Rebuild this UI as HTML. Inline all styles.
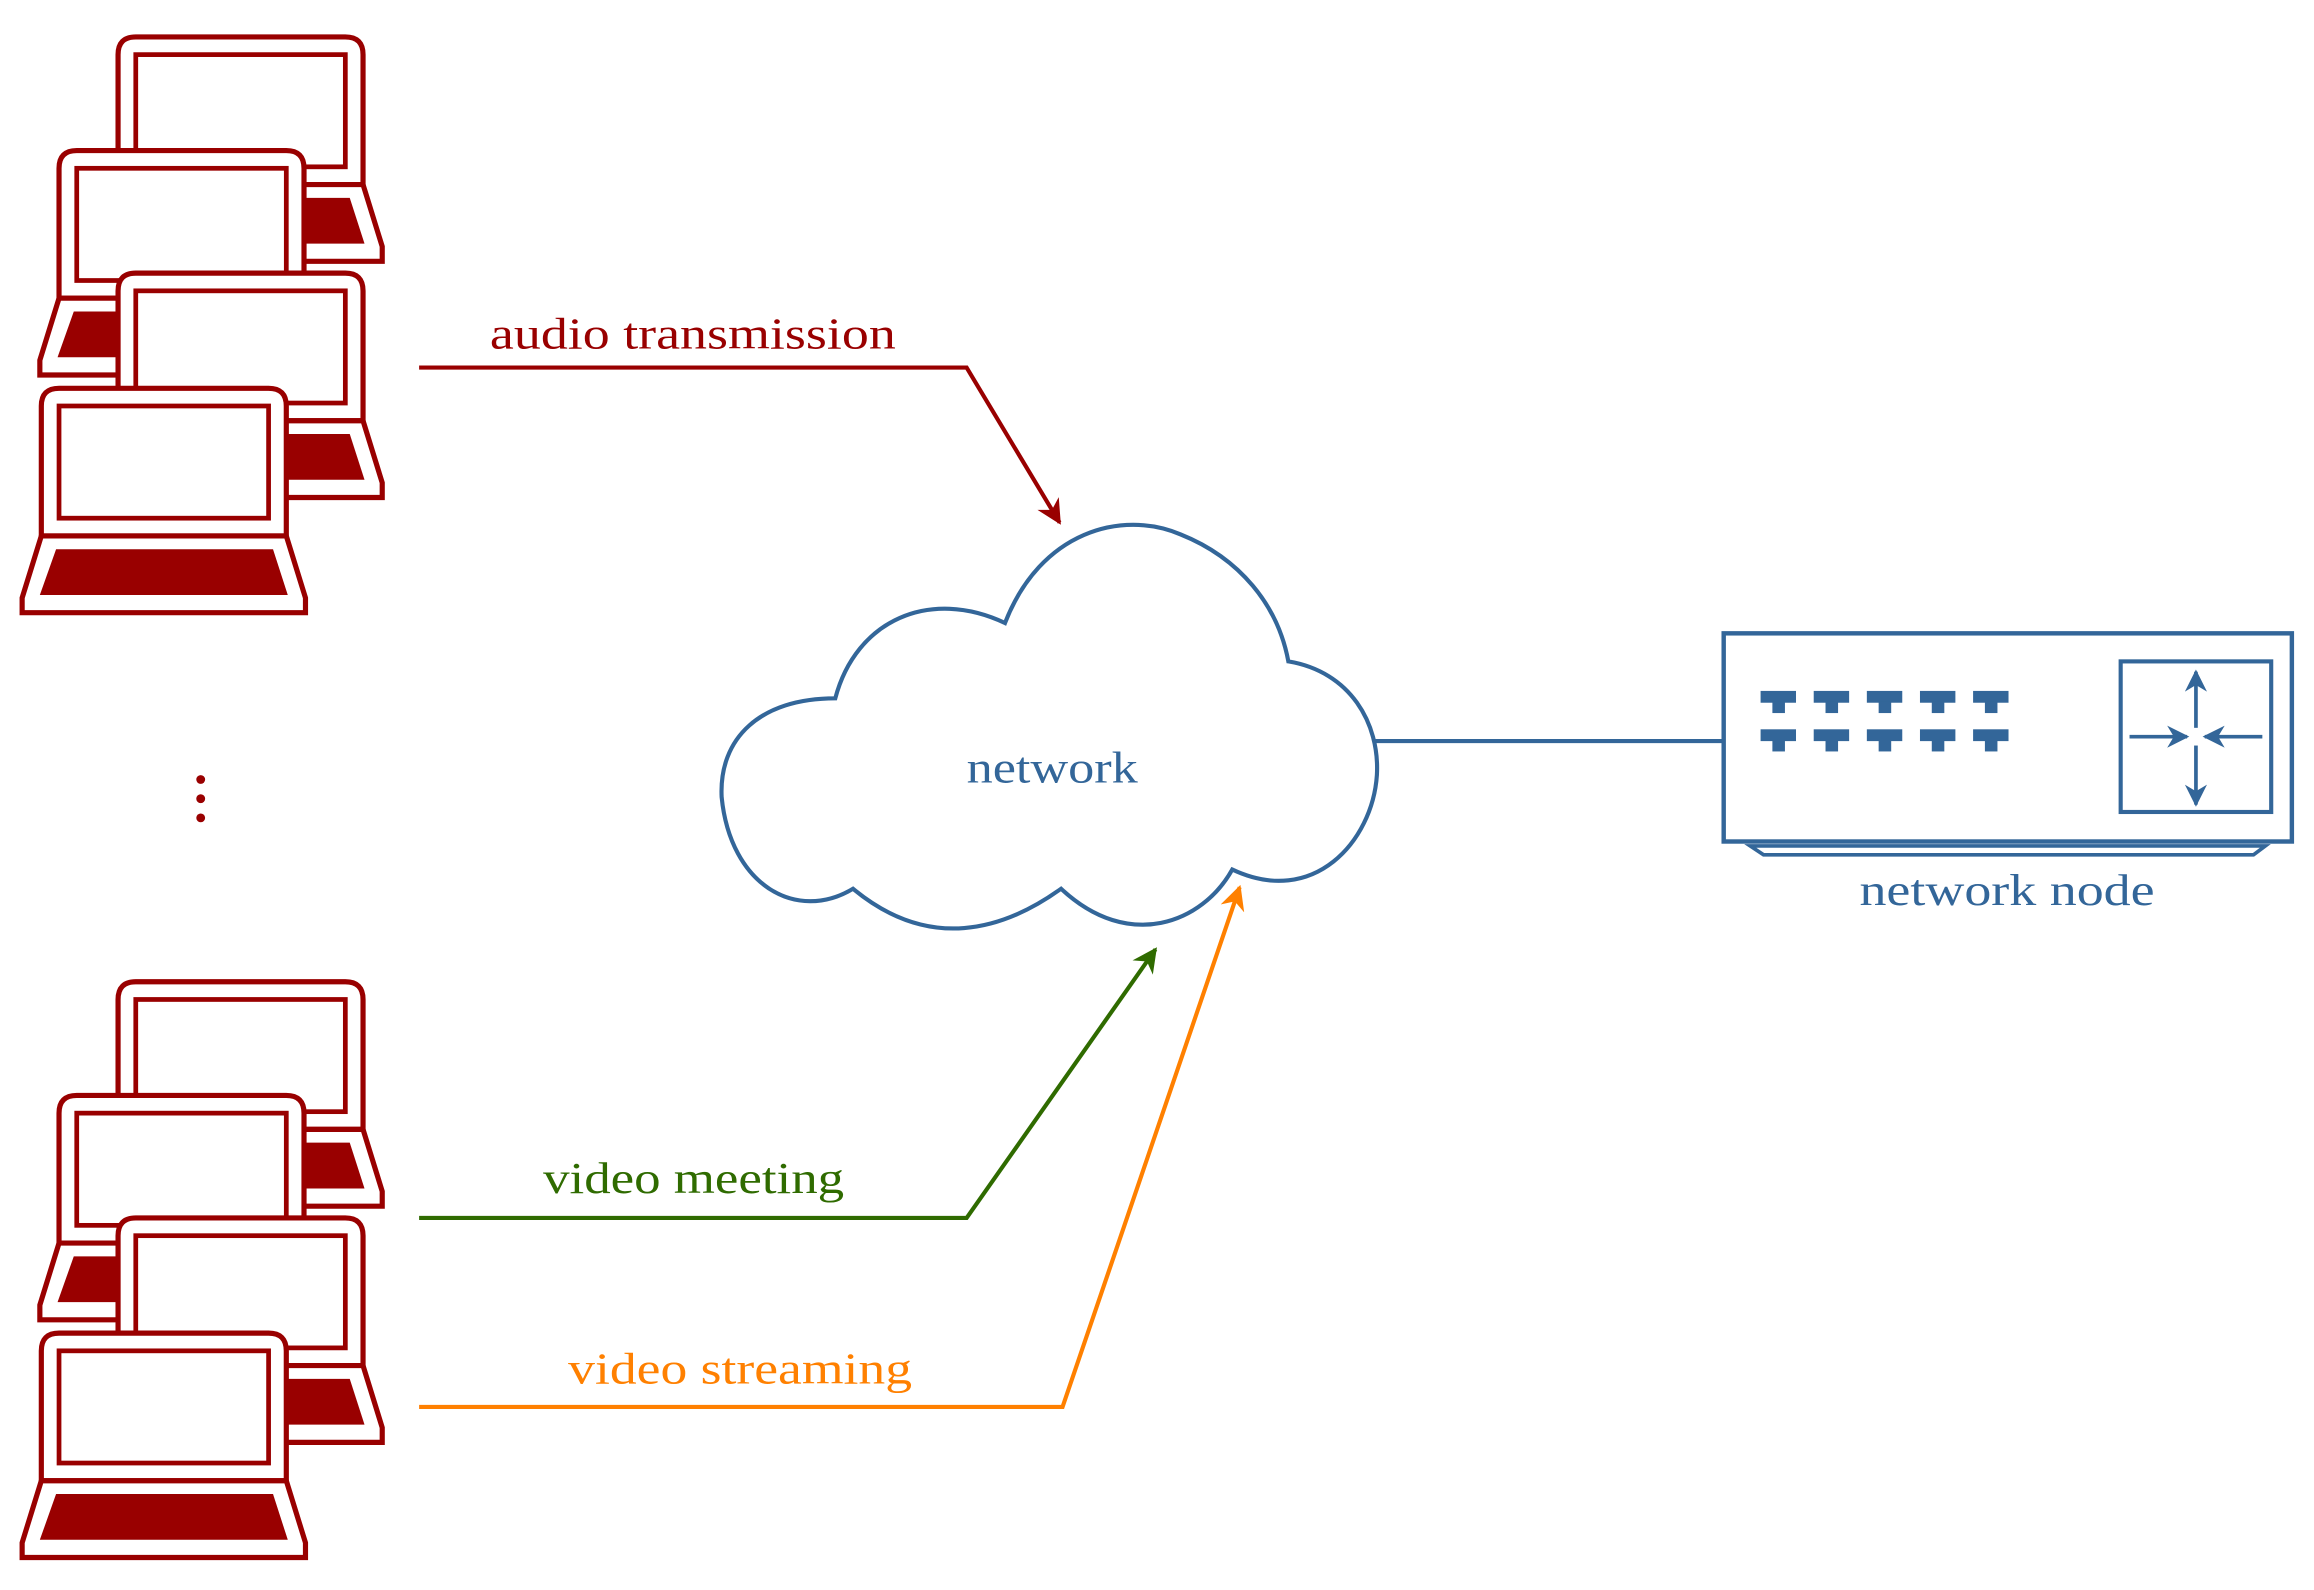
<!DOCTYPE html>
<html><head><meta charset="utf-8"><style>html,body{margin:0;padding:0;background:#fff}svg{display:block}</style></head>
<body>
<svg width="2314" height="1590" viewBox="0 0 1568 1077" preserveAspectRatio="none" xmlns="http://www.w3.org/2000/svg">
<defs>
<g id="lap">
  <path d="M13,100 L13,12 Q13,0 25,0 L167,0 Q179,0 179,12 L179,100 Z" fill="#fff" stroke="#990000" stroke-width="3.5"/>
  <rect x="25" y="12" width="142" height="76" fill="#fff" stroke="#990000" stroke-width="3.2"/>
  <path d="M13,100 L179,100 L192,142 L192,152 L0,152 L0,142 Z" fill="#fff" stroke="#990000" stroke-width="3.5"/>
  <path d="M23,109 L170,109 L180,140 L12,140 Z" fill="#990000"/>
</g>
<marker id="mr" viewBox="0 0 10 10" refX="9" refY="5" markerWidth="6" markerHeight="6" orient="auto" markerUnits="strokeWidth"><path d="M0,0 L10,5 L0,10 L3,5 Z" fill="#990000"/></marker>
<marker id="mg" viewBox="0 0 10 10" refX="9" refY="5" markerWidth="6" markerHeight="6" orient="auto" markerUnits="strokeWidth"><path d="M0,0 L10,5 L0,10 L3,5 Z" fill="#2f6b00"/></marker>
<marker id="mo" viewBox="0 0 10 10" refX="9" refY="5" markerWidth="6" markerHeight="6" orient="auto" markerUnits="strokeWidth"><path d="M0,0 L10,5 L0,10 L3,5 Z" fill="#ff8000"/></marker>
<marker id="mb" viewBox="0 0 10 10" refX="9" refY="5" markerWidth="6" markerHeight="6" orient="auto" markerUnits="strokeWidth"><path d="M0,0 L10,5 L0,10 L3,5 Z" fill="#336699"/></marker>
<g id="port"><rect x="0" y="0" width="24" height="8" fill="#336699"/><rect x="8" y="7" width="8.5" height="8" fill="#336699"/></g>
</defs>

<use href="#lap" x="67" y="25"/>
<use href="#lap" x="27" y="102"/>
<use href="#lap" x="67" y="185"/>
<use href="#lap" x="15" y="263"/>

<use href="#lap" x="67" y="665"/>
<use href="#lap" x="27" y="742"/>
<use href="#lap" x="67" y="825"/>
<use href="#lap" x="15" y="903"/>

<circle cx="136" cy="528" r="3" fill="#990000"/>
<circle cx="136" cy="541" r="3" fill="#990000"/>
<circle cx="136" cy="554" r="3" fill="#990000"/>

<g font-family="'Liberation Serif', serif" font-size="30">
<polyline points="284,249 655,249 718,354" fill="none" stroke="#990000" stroke-width="2.8" marker-end="url(#mr)"/>
<text x="332" y="236" fill="#990000" textLength="275" lengthAdjust="spacingAndGlyphs">audio transmission</text>

<polyline points="284,825 655,825 783,643" fill="none" stroke="#2f6b00" stroke-width="2.8" marker-end="url(#mg)"/>
<text x="368" y="808" fill="#2f6b00" textLength="204" lengthAdjust="spacingAndGlyphs">video meeting</text>

<polyline points="284,953 720,953 840,601" fill="none" stroke="#ff8000" stroke-width="2.8" marker-end="url(#mo)"/>
<text x="385" y="937" fill="#ff8000" textLength="233" lengthAdjust="spacingAndGlyphs">video streaming</text>

<path d="M566,473 C580,420 630,398 681,422 C705,360 760,345 800,362 C840,378 866,410 873,448 C915,455 935,490 933,525 C930,570 890,615 835,589 C815,625 765,645 719,602 C680,630 630,645 578,602 C540,625 495,600 489,540 C487,500 515,473 566,473 Z" fill="none" stroke="#336699" stroke-width="2.8"/>
<text x="655" y="530" fill="#336699" textLength="116" lengthAdjust="spacingAndGlyphs">network</text>

<line x1="932" y1="502" x2="1168" y2="502" stroke="#336699" stroke-width="2.8"/>
<rect x="1168" y="429" width="385" height="141" fill="#fff" stroke="#336699" stroke-width="3"/>
<path d="M1186,573 L1535,573 L1527,579 L1195,579 Z" fill="none" stroke="#336699" stroke-width="2.5"/>
<text x="1260" y="613" fill="#336699" textLength="200" lengthAdjust="spacingAndGlyphs">network node</text>
</g>

<use href="#port" x="1193" y="468"/><use href="#port" x="1229" y="468"/><use href="#port" x="1265" y="468"/><use href="#port" x="1301" y="468"/><use href="#port" x="1337" y="468"/>
<use href="#port" x="1193" y="494"/><use href="#port" x="1229" y="494"/><use href="#port" x="1265" y="494"/><use href="#port" x="1301" y="494"/><use href="#port" x="1337" y="494"/>

<rect x="1437" y="448" width="102" height="102" fill="none" stroke="#336699" stroke-width="2.8"/>
<g stroke="#336699" stroke-width="2.5" fill="none">
<line x1="1488" y1="493" x2="1488" y2="455" marker-end="url(#mb)"/>
<line x1="1488" y1="505" x2="1488" y2="545" marker-end="url(#mb)"/>
<line x1="1443" y1="499" x2="1482" y2="499" marker-end="url(#mb)"/>
<line x1="1533" y1="499" x2="1494" y2="499" marker-end="url(#mb)"/>
</g>
</svg>
</body></html>
